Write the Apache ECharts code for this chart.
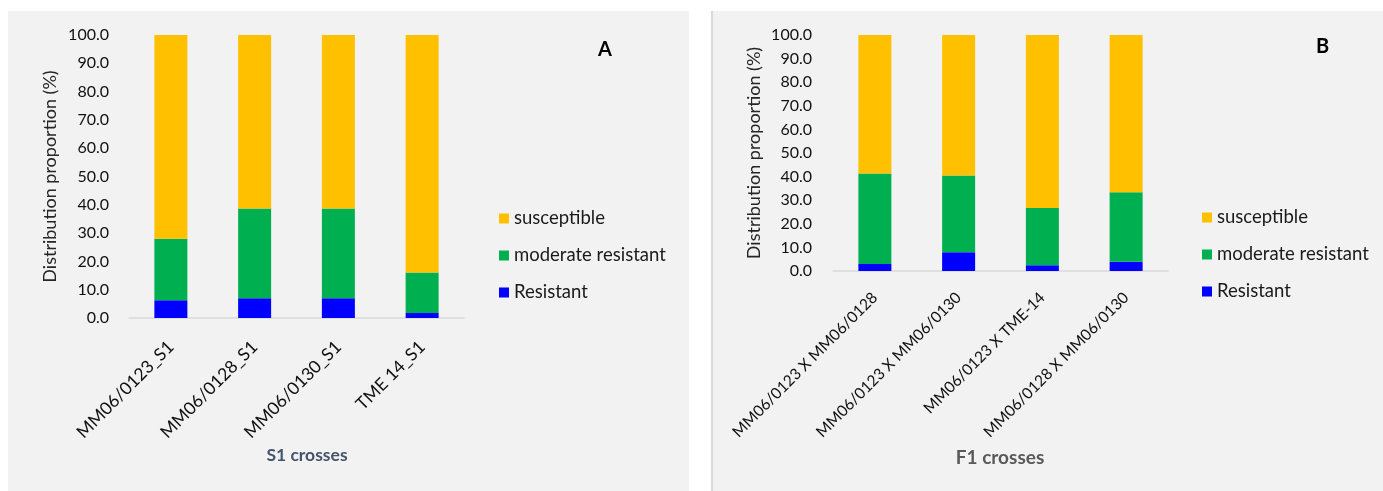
<!DOCTYPE html>
<html>
<head>
<meta charset="utf-8">
<script src="https://cdn.jsdelivr.net/npm/echarts@6/dist/echarts.min.js"></script>
<style>
  html, body { margin: 0; padding: 0; background: #ffffff; width: 1383px; height: 491px; overflow: hidden; }
  #a { position: absolute; left: 8px; top: 11px; width: 681px; height: 480px; background: #f2f2f2; }
  #b { position: absolute; left: 711px; top: 11px; width: 672px; height: 480px; background: #f2f2f2; border-left: 2px solid #d9d9d9; box-sizing: border-box; }
</style>
</head>
<body>
<div id="a"></div>
<div id="b"></div>
<script>
// Panel A (S1 crosses)
const catsA = ['MM06/0123_S1', 'MM06/0128_S1', 'MM06/0130_S1', 'TME 14_S1'];
const resistantA = [6.3, 7.0, 7.0, 1.8];
const moderateA = [21.7, 31.7, 31.7, 14.3];
const susceptibleA = [72.0, 61.3, 61.3, 83.9];

// Panel B (F1 crosses)
const catsB = ['MM06/0123 X MM06/0128', 'MM06/0123 X MM06/0130', 'MM06/0123 X TME-14', 'MM06/0128 X MM06/0130'];
const resistantB = [3.0, 7.9, 2.4, 3.9];
const moderateB = [38.3, 32.6, 24.3, 29.5];
const susceptibleB = [58.7, 59.5, 73.3, 66.6];

const seriesNames = ['Resistant', 'moderate resistant', 'susceptible'];
const legendOrder = ['susceptible', 'moderate resistant', 'Resistant'];
const colors = ['#0000FF', '#00B050', '#FFC000'];

const FONT = 'Lato, "Open Sans", sans-serif';

function makeOption(cats, r, m, s, cfg) {
  const vals = [r, m, s];
  return {
    animation: false,
    textStyle: { fontFamily: FONT },
    grid: { left: cfg.gridL, top: 24, width: cfg.gridW, height: cfg.gridH },
    legend: {
      data: legendOrder,
      orient: 'vertical',
      left: cfg.legendL,
      top: cfg.legendTop,
      itemWidth: 10,
      itemHeight: 10,
      itemGap: 18,
      icon: 'rect',
      textStyle: { fontFamily: FONT, fontSize: 18.5, color: '#1a1a1a' }
    },
    xAxis: {
      type: 'category',
      data: cats,
      axisLine: { lineStyle: { color: '#d9d9d9', width: 1.5 } },
      axisTick: { show: false },
      axisLabel: { rotate: 45, fontSize: cfg.xlabSize, color: '#111', margin: cfg.xlabMargin, fontFamily: FONT }
    },
    yAxis: {
      type: 'value',
      min: 0, max: 100, interval: 10,
      splitLine: { show: false },
      axisLine: { show: false },
      axisTick: { show: false },
      axisLabel: { fontSize: 16, color: '#111', margin: cfg.ylabMargin, fontFamily: FONT,
        formatter: v => v.toFixed(1) },
      name: 'Distribution proportion (%)',
      nameLocation: 'middle',
      nameRotate: 90,
      nameGap: cfg.nameGap,
      nameTextStyle: { fontSize: 18, color: '#262626', fontFamily: FONT }
    },
    series: seriesNames.map((n, i) => ({
      name: n,
      type: 'bar',
      stack: 'total',
      barWidth: 33,
      data: vals[i],
      itemStyle: { color: colors[i] }
    })),
    graphic: [
      { type: 'text', left: cfg.letterX, top: cfg.letterY,
        style: { text: cfg.letter, fontSize: 20, fontWeight: 'bold', fill: '#000', fontFamily: FONT } },
      { type: 'text', x: cfg.xnameX, y: cfg.xnameY,
        style: { text: cfg.xname, fontSize: cfg.xnameSize, fontWeight: 'bold', fill: cfg.xnameColor,
          fontFamily: FONT, align: 'center', verticalAlign: 'middle' } }
    ]
  };
}

const chartA = echarts.init(document.getElementById('a'), null, { renderer: 'canvas' });
chartA.setOption(makeOption(catsA, resistantA, moderateA, susceptibleA, {
  gridL: 121, gridW: 335, gridH: 283, legendL: 486, legendTop: 193,
  xlabSize: 17.5, xlabMargin: 26, ylabMargin: 20, nameGap: 70,
  letter: 'A', letterX: 590, letterY: 29,
  xname: 'S1 crosses', xnameX: 299, xnameY: 444, xnameSize: 17.5, xnameColor: '#44546A'
}));

const chartB = echarts.init(document.getElementById('b'), null, { renderer: 'canvas' });
chartB.setOption(makeOption(catsB, resistantB, moderateB, susceptibleB, {
  gridL: 120, gridW: 335, gridH: 236, legendL: 484, legendTop: 192,
  xlabSize: 15.5, xlabMargin: 24, ylabMargin: 21, nameGap: 70,
  letter: 'B', letterX: 603, letterY: 26,
  xname: 'F1 crosses', xnameX: 287, xnameY: 447, xnameSize: 19, xnameColor: '#595959'
}));
</script>
</body>
</html>
